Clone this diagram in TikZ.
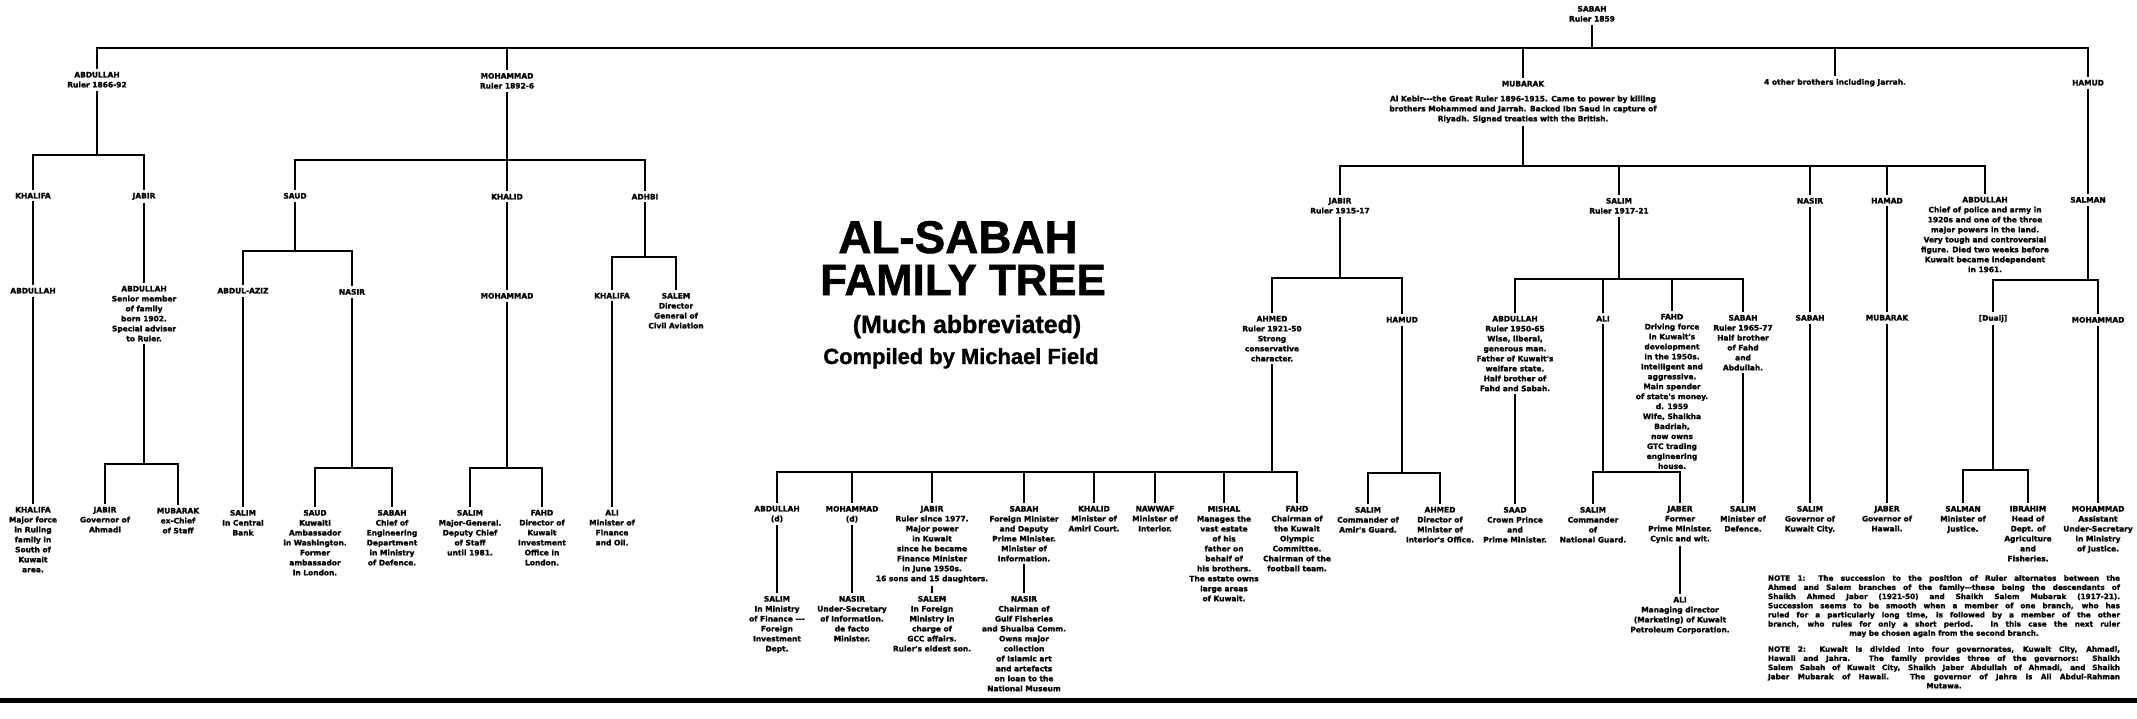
\documentclass[tikz,border=0pt]{standalone}
\usepackage{fontspec}
\setmainfont{Liberation Sans}[BoldFeatures={FakeBold=1.2}]
\newfontfamily\djv{DejaVu Sans}[BoldFeatures={FakeBold=1.6}]
\tikzset{
 lbl/.style={font=\djv\bfseries\fontsize{7.5}{10}\selectfont, align=center, inner sep=0pt, outer sep=3bp, anchor=north},
 conn/.style={line width=2.8bp, line join=miter},
 notebox/.style={font=\djv\bfseries\fontsize{7.3}{9.2}\selectfont, text width=352bp, align=justify, inner sep=0pt, anchor=north},
 ttl/.style={inner sep=0pt, anchor=base},
}
\begin{document}
\begin{tikzpicture}[x=1bp,y=-1bp]
\useasboundingbox (0,0) rectangle (2137,719);
% ---------- title ----------
\node[ttl, font=\fontsize{46}{46}\selectfont\bfseries] (t1) at (958,253) {AL-SABAH};
\node[ttl, font=\fontsize{44}{44}\selectfont\bfseries] (t2) at (963,295) {FAMILY TREE};
\node[ttl, font=\fontsize{25}{25}\selectfont\bfseries] (t3) at (967,333) {(Much abbreviated)};
\node[ttl, font=\fontsize{22}{22}\selectfont\bfseries] (t4) at (961,364) {Compiled by Michael Field};
% ---------- generation 0/1 ----------
\node[lbl] (sabah) at (1592,3) {SABAH\\Ruler 1859};
\node[lbl] (a1) at (97,69) {ABDULLAH\\Ruler 1866-92};
\node[lbl] (m1) at (507,70) {MOHAMMAD\\Ruler 1892-6};
\node[lbl] (mu1) at (1523,78) {MUBARAK\\[5pt]Al Kebir---the Great Ruler 1896-1915. Came to power by killing\\brothers Mohammed and Jarrah. Backed Ibn Saud in capture of\\Riyadh. Signed treaties with the British.};
\node[lbl] (ob) at (1835,76) {4 other brothers including Jarrah.};
\node[lbl] (h1) at (2088,77) {HAMUD};
% ---------- generation 2 ----------
\node[lbl] (kh2) at (33,190) {KHALIFA};
\node[lbl] (ja2) at (144,190) {JABIR};
\node[lbl] (sa2) at (295,190) {SAUD};
\node[lbl] (kd2) at (507,191) {KHALID};
\node[lbl] (ad2) at (645,191) {ADHBI};
\node[lbl] (jb2) at (1340,195) {JABIR\\Ruler 1915-17};
\node[lbl] (sl2) at (1619,195) {SALIM\\Ruler 1917-21};
\node[lbl] (ns2) at (1810,195) {NASIR};
\node[lbl] (hm2) at (1887,195) {HAMAD};
\node[lbl] (ab2) at (1985,194) {ABDULLAH\\Chief of police and army in\\1920s and one of the three\\major powers in the land.\\Very tough and controversial\\figure. Died two weeks before\\Kuwait became independent\\in 1961.};
\node[lbl] (sm2) at (2088,194) {SALMAN};
% ---------- generation 3 ----------
\node[lbl] (ab3a) at (33,285) {ABDULLAH};
\node[lbl] (ab3b) at (144,283) {ABDULLAH\\Senior member\\of family\\born 1902.\\Special adviser\\to Ruler.};
\node[lbl] (aa3) at (243,285) {ABDUL-AZIZ};
\node[lbl] (ns3) at (352,286) {NASIR};
\node[lbl] (mh3) at (507,290) {MOHAMMAD};
\node[lbl] (kf3) at (612,290) {KHALIFA};
\node[lbl] (se3) at (676,290) {SALEM\\Director\\General of\\Civil Aviation};
\node[lbl] (ah3) at (1272,313) {AHMED\\Ruler 1921-50\\Strong\\conservative\\character.};
\node[lbl] (hd3) at (1402,314) {HAMUD};
\node[lbl] (ab3c) at (1515,313) {ABDULLAH\\Ruler 1950-65\\Wise, liberal,\\generous man.\\Father of Kuwait's\\welfare state.\\Half brother of\\Fahd and Sabah.};
\node[lbl] (al3) at (1603,313) {ALI};
\node[lbl] (fa3) at (1672,311) {FAHD\\Driving force\\in Kuwait's\\development\\in the 1950s.\\Intelligent and\\aggressive.\\Main spender\\of state's money.\\d. 1959\\Wife, Shaikha\\Badriah,\\now owns\\GTC trading\\engineering\\house.};
\node[lbl] (sb3) at (1743,312) {SABAH\\Ruler 1965-77\\Half brother\\of Fahd\\and\\Abdullah.};
\node[lbl] (sb3b) at (1810,312) {SABAH};
\node[lbl] (mb3) at (1887,312) {MUBARAK};
\node[lbl] (du3) at (1993,312) {[Duaij]};
\node[lbl] (mo3) at (2098,314) {MOHAMMAD};
% ---------- generation 4 ----------
\node[lbl] (kh4) at (33,504) {KHALIFA\\Major force\\in Ruling\\family in\\South of\\Kuwait\\area.};
\node[lbl] (ja4) at (105,504) {JABIR\\Governor of\\Ahmadi};
\node[lbl] (mu4) at (178,505) {MUBARAK\\ex-Chief\\of Staff};
\node[lbl] (sa4) at (243,507) {SALIM\\In Central\\Bank};
\node[lbl] (sd4) at (315,507) {SAUD\\Kuwaiti\\Ambassador\\in Washington.\\Former\\ambassador\\in London.};
\node[lbl] (sb4) at (392,507) {SABAH\\Chief of\\Engineering\\Department\\in Ministry\\of Defence.};
\node[lbl] (sl4) at (470,507) {SALIM\\Major-General.\\Deputy Chief\\of Staff\\until 1981.};
\node[lbl] (fd4) at (542,507) {FAHD\\Director of\\Kuwait\\Investment\\Office in\\London.};
\node[lbl] (al4) at (612,507) {ALI\\Minister of\\Finance\\and Oil.};
\node[lbl] (ab4) at (777,503) {ABDULLAH\\(d)};
\node[lbl] (mo4) at (852,503) {MOHAMMAD\\(d)};
\node[lbl] (jb4) at (932,503) {JABIR\\Ruler since 1977.\\Major power\\in Kuwait\\since he became\\Finance Minister\\in June 1950s.\\16 sons and 15 daughters.};
\node[lbl] (sbx) at (1024,503) {SABAH\\Foreign Minister\\and Deputy\\Prime Minister.\\Minister of\\Information.};
\node[lbl] (kd4) at (1094,503) {KHALID\\Minister of\\Amiri Court.};
\node[lbl] (nw4) at (1155,503) {NAWWAF\\Minister of\\Interior.};
\node[lbl] (mi4) at (1224,503) {MISHAL\\Manages the\\vast estate\\of his\\father on\\behalf of\\his brothers.\\The estate owns\\large areas\\of Kuwait.};
\node[lbl] (fh4) at (1297,503) {FAHD\\Chairman of\\the Kuwait\\Olympic\\Committee.\\Chairman of the\\football team.};
\node[lbl] (sl4b) at (1368,504) {SALIM\\Commander of\\Amir's Guard.};
\node[lbl] (ah4) at (1440,504) {AHMED\\Director of\\Minister of\\Interior's Office.};
\node[lbl] (sd4b) at (1515,504) {SAAD\\Crown Prince\\and\\Prime Minister.};
\node[lbl] (sl4c) at (1593,504) {SALIM\\Commander\\of\\National Guard.};
\node[lbl] (je4) at (1680,503) {JABER\\Former\\Prime Minister.\\Cynic and wit.};
\node[lbl] (sl4d) at (1743,503) {SALIM\\Minister of\\Defence.};
\node[lbl] (sl4e) at (1810,503) {SALIM\\Governor of\\Kuwait City.};
\node[lbl] (je4b) at (1887,503) {JABER\\Governor of\\Hawali.};
\node[lbl] (sm4) at (1963,503) {SALMAN\\Minister of\\Justice.};
\node[lbl] (ib4) at (2028,503) {IBRAHIM\\Head of\\Dept. of\\Agriculture\\and\\Fisheries.};
\node[lbl] (mo4b) at (2098,503) {MOHAMMAD\\Assistant\\Under-Secretary\\in Ministry\\of Justice.};
% ---------- generation 5 ----------
\node[lbl] (sl5) at (777,593) {SALIM\\In Ministry\\of Finance ---\\Foreign\\Investment\\Dept.};
\node[lbl] (ns5) at (852,593) {NASIR\\Under-Secretary\\of Information.\\de facto\\Minister.};
\node[lbl] (se5) at (932,593) {SALEM\\In Foreign\\Ministry in\\charge of\\GCC affairs.\\Ruler's eldest son.};
\node[lbl] (ns5b) at (1024,593) {NASIR\\Chairman of\\Gulf Fisheries\\and Shuaiba Comm.\\Owns major\\collection\\of Islamic art\\and artefacts\\on loan to the\\National Museum};
\node[lbl] (al5) at (1680,594) {ALI\\Managing director\\(Marketing) of Kuwait\\Petroleum Corporation.};
% ---------- notes ----------
\node[notebox] (note1) at (1944,575) {\parfillskip=0pt NOTE 1: The succession to the position of Ruler alternates between the\linebreak Ahmed and Salem branches of the family—these being the descendants of\linebreak Shaikh Ahmed Jaber (1921-50) and Shaikh Salem Mubarak (1917-21).\linebreak Succession seems to be smooth when a member of one branch, who has\linebreak ruled for a particularly long time, is followed by a member of the other\linebreak branch, who rules for only a short period. In this case the next ruler\par\hspace*{\fill}may be chosen again from the second branch.\hspace*{\fill}\par};
\node[notebox] (note2) at (1944,646) {\parfillskip=0pt NOTE 2: Kuwait is divided into four governorates, Kuwait City, Ahmadi,\linebreak Hawali and Jahra. The family provides three of the governors: Shaikh\linebreak Salem Sabah of Kuwait City, Shaikh Jaber Abdullah of Ahmadi, and Shaikh\linebreak Jaber Mubarak of Hawali. The governor of Jahra is Ali Abdul-Rahman\par\hspace*{\fill}Mutawa.\hspace*{\fill}\par};
% ---------- connectors ----------
\coordinate (top) at (0,48);
\draw[conn] (a1.north) -- (a1.north |- top) -- (h1.north |- top) -- (h1.north);
\draw[conn] (sabah.south) -- (sabah.south |- top);
\foreach \n in {m1,mu1,ob} {\draw[conn] (\n.north) -- (\n.north |- top);}
% Abdullah line
\coordinate (bA) at (0,155);
\draw[conn] (a1.south) -- (a1.south |- bA);
\draw[conn] (kh2.north) -- (kh2.north |- bA) -- (ja2.north |- bA) -- (ja2.north);
\draw[conn] (kh2.south) -- (ab3a.north);
\draw[conn] (ab3a.south) -- (kh4.north);
\draw[conn] (ja2.south) -- (ab3b.north);
\coordinate (bB) at (0,464);
\draw[conn] (ab3b.south) -- (ab3b.south |- bB);
\draw[conn] (ja4.north) -- (ja4.north |- bB) -- (mu4.north |- bB) -- (mu4.north);
% Mohammad line
\coordinate (bC) at (0,160);
\draw[conn] (m1.south) -- (m1.south |- bC);
\draw[conn] (sa2.north) -- (sa2.north |- bC) -- (ad2.north |- bC) -- (ad2.north);
\draw[conn] (kd2.north) -- (kd2.north |- bC);
\coordinate (bD) at (0,251);
\draw[conn] (sa2.south) -- (sa2.south |- bD);
\draw[conn] (aa3.north) -- (aa3.north |- bD) -- (ns3.north |- bD) -- (ns3.north);
\draw[conn] (aa3.south) -- (sa4.north);
\coordinate (bE) at (0,468);
\draw[conn] (ns3.south) -- (ns3.south |- bE);
\draw[conn] (sd4.north) -- (sd4.north |- bE) -- (sb4.north |- bE) -- (sb4.north);
\draw[conn] (kd2.south) -- (mh3.north);
\draw[conn] (mh3.south) -- (mh3.south |- bE);
\draw[conn] (sl4.north) -- (sl4.north |- bE) -- (fd4.north |- bE) -- (fd4.north);
\coordinate (bF) at (0,257);
\draw[conn] (ad2.south) -- (ad2.south |- bF);
\draw[conn] (kf3.north) -- (kf3.north |- bF) -- (se3.north |- bF) -- (se3.north);
\draw[conn] (kf3.south) -- (al4.north);
% Mubarak line
\coordinate (bG) at (0,166);
\draw[conn] (mu1.south) -- (mu1.south |- bG);
\draw[conn] (jb2.north) -- (jb2.north |- bG) -- (ab2.north |- bG) -- (ab2.north);
\foreach \n in {sl2,ns2,hm2} {\draw[conn] (\n.north) -- (\n.north |- bG);}
\coordinate (bH) at (0,278);
\draw[conn] (jb2.south) -- (jb2.south |- bH);
\draw[conn] (ah3.north) -- (ah3.north |- bH) -- (hd3.north |- bH) -- (hd3.north);
\coordinate (bI) at (0,472);
\draw[conn] (ah3.south) -- (ah3.south |- bI);
\draw[conn] (ab4.north) -- (ab4.north |- bI) -- (fh4.north |- bI) -- (fh4.north);
\foreach \n in {mo4,jb4,sbx,kd4,nw4,mi4} {\draw[conn] (\n.north) -- (\n.north |- bI);}
\draw[conn] (ab4.south) -- (sl5.north);
\draw[conn] (mo4.south) -- (ns5.north);
\draw[conn] (jb4.south) -- (se5.north);
\draw[conn] (sbx.south) -- (ns5b.north);
\coordinate (bJ) at (0,279);
\draw[conn] (sl2.south) -- (sl2.south |- bJ);
\draw[conn] (ab3c.north) -- (ab3c.north |- bJ) -- (sb3.north |- bJ) -- (sb3.north);
\foreach \n in {al3,fa3} {\draw[conn] (\n.north) -- (\n.north |- bJ);}
\coordinate (bK) at (0,473);
\draw[conn] (hd3.south) -- (hd3.south |- bK);
\draw[conn] (sl4b.north) -- (sl4b.north |- bK) -- (ah4.north |- bK) -- (ah4.north);
\draw[conn] (ab3c.south) -- (sd4b.north);
\draw[conn] (al3.south) -- (al3.south |- bI);
\draw[conn] (sl4c.north) -- (sl4c.north |- bI) -- (je4.north |- bI) -- (je4.north);
\draw[conn] (je4.south) -- (al5.north);
\draw[conn] (sb3.south) -- (sl4d.north);
\draw[conn] (ns2.south) -- (sb3b.north);
\draw[conn] (sb3b.south) -- (sl4e.north);
\draw[conn] (hm2.south) -- (mb3.north);
\draw[conn] (mb3.south) -- (je4b.north);
% Hamud line
\draw[conn] (h1.south) -- (sm2.north);
\coordinate (bL) at (0,280);
\draw[conn] (sm2.south) -- (sm2.south |- bL);
\draw[conn] (du3.north) -- (du3.north |- bL) -- (mo3.north |- bL) -- (mo3.north);
\coordinate (bM) at (0,470);
\draw[conn] (du3.south) -- (du3.south |- bM);
\draw[conn] (sm4.north) -- (sm4.north |- bM) -- (ib4.north |- bM) -- (ib4.north);
\draw[conn] (mo3.south) -- (mo4b.north);
% bottom rule
\coordinate (rl) at (0,700);
\coordinate (rr) at (2137,700);
\draw[line width=5bp] (rl) -- (rr);
\end{tikzpicture}
\end{document}
